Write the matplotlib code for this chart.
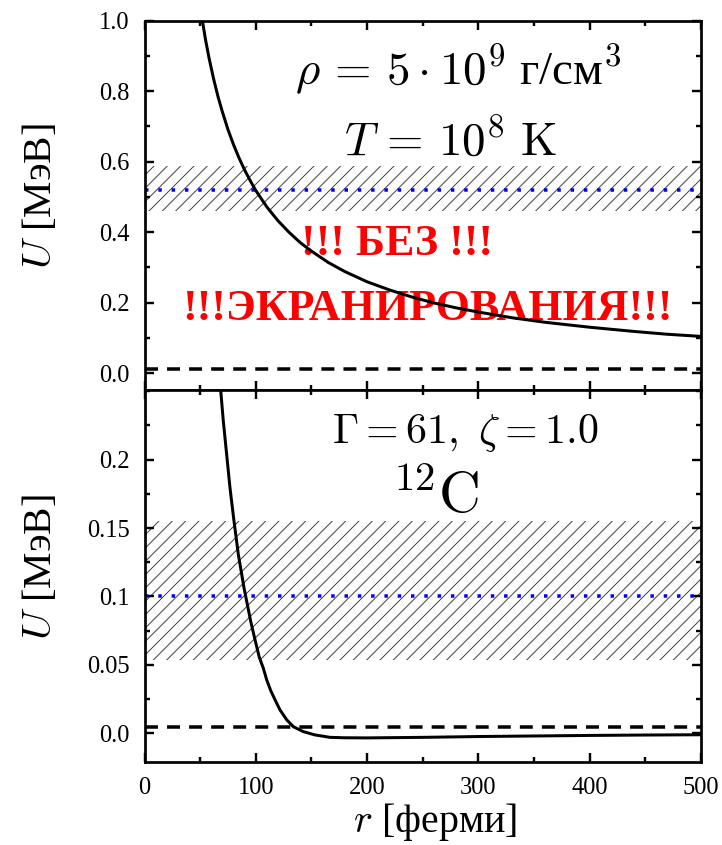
import matplotlib
matplotlib.use("Agg")
import matplotlib.pyplot as plt
from matplotlib.ticker import MultipleLocator, FixedLocator, FixedFormatter

DPI = 80
PT = 72.0 / DPI  # points per pixel

plt.rcParams['font.family'] = ['Liberation Serif', 'DejaVu Serif']
plt.rcParams['mathtext.fontset'] = 'cm'
plt.rcParams['hatch.linewidth'] = 1.0 * PT
plt.rcParams['hatch.color'] = '#444444'

# ---------------- data ----------------
# Top panel: unscreened Coulomb potential U(r)
r_top = [52, 55, 58, 62, 66, 70, 75, 80, 85, 90, 95, 100, 110, 120, 130, 140, 150,
         165, 180, 200, 220, 240, 260, 280, 300, 330, 360, 400, 440, 470, 500]
U_top = [1.0, 0.943, 0.894, 0.836, 0.785, 0.741, 0.691, 0.648, 0.610, 0.576, 0.546,
         0.518, 0.471, 0.432, 0.399, 0.370, 0.346, 0.314, 0.288, 0.259, 0.236, 0.216,
         0.199, 0.185, 0.173, 0.157, 0.144, 0.130, 0.118, 0.110, 0.104]
band_top = (0.461, 0.589)
level_top = 0.52
dash_top = 0.0125

# Bottom panel: screened potential U(r)
r_bot = [68.5, 70.8, 73.8, 76.8, 80.4, 84.3, 89.4, 95.4, 99.3, 103.1, 106.7, 109.8,
         113.5, 117.3, 121.7, 127.8, 133.7, 142.7, 153, 166.7, 180, 200, 250, 300,
         350, 400, 450, 500]
U_bot = [0.2503, 0.2283, 0.2039, 0.1795, 0.1551, 0.1307, 0.1063, 0.0819, 0.0683,
         0.0556, 0.0477, 0.039, 0.031, 0.0244, 0.0171, 0.0098, 0.0048, 0.0012, -0.0012,
         -0.003, -0.0033, -0.0034, -0.003, -0.0024, -0.002, -0.0016, -0.0013, -0.0011]
band_bot = (0.0536, 0.1548)
level_bot = 0.1
dash_bot = 0.0048

xticks = [0, 100, 200, 300, 400, 500]
xticklabels = ['0', '100', '200', '300', '400', '500']
yticks_top = [0.0, 0.2, 0.4, 0.6, 0.8, 1.0]
yticklabels_top = ['0.0', '0.2', '0.4', '0.6', '0.8', '1.0']
yticks_bot = [0.0, 0.05, 0.1, 0.15, 0.2]
yticklabels_bot = ['0.0', '0.05', '0.1', '0.15', '0.2']

# ---------------- figure ----------------
W, H = 722, 845
fig = plt.figure(figsize=(W / DPI, H / DPI), dpi=DPI)

L, R = 144.5, 701.0
T1, B1 = 20.7, 390.3
B2 = 761.7
ax1 = fig.add_axes([L / W, 1 - B1 / H, (R - L) / W, (B1 - T1) / H])
ax2 = fig.add_axes([L / W, 1 - B2 / H, (R - L) / W, (B2 - B1) / H])

spine_lw = 2.7 * PT
curve_lw = 3.0 * PT
dash_lw = 3.5 * PT
dot_lw = 3.5 * PT
tick_fs = 24.5 * PT


def style(ax):
    for s in ax.spines.values():
        s.set_linewidth(spine_lw)
    ax.tick_params(which='both', direction='in', top=True, right=True,
                   width=2.4 * PT, labelsize=tick_fs, pad=15 * PT)
    ax.tick_params(which='major', length=9 * PT)
    ax.tick_params(which='minor', length=5 * PT)
    ax.set_xlim(0, 500)
    ax.xaxis.set_major_locator(FixedLocator(xticks))
    ax.xaxis.set_minor_locator(MultipleLocator(50))


for ax, rr, uu, band, lev, dl in ((ax1, r_top, U_top, band_top, level_top, dash_top),
                                  (ax2, r_bot, U_bot, band_bot, level_bot, dash_bot)):
    style(ax)
    ax.axhspan(band[0], band[1], facecolor='none', edgecolor='#444444',
               hatch='//', linewidth=0, zorder=1)
    ax.axhline(lev, color='#0000ff', lw=dot_lw, linestyle=(0, (1, 2.8)),
               dash_capstyle='butt', zorder=2)
    ax.axhline(dl, color='black', lw=dash_lw, linestyle=(0, (3.7, 2.6)),
               dash_capstyle='butt', zorder=2)
    ax.plot(rr, uu, color='black', lw=curve_lw, zorder=5, solid_capstyle='butt')

# top panel axes
ax1.set_ylim(-0.049, 1.0)
ax1.yaxis.set_major_locator(FixedLocator(yticks_top))
ax1.yaxis.set_major_formatter(FixedFormatter(yticklabels_top))
ax1.yaxis.set_minor_locator(MultipleLocator(0.1))
ax1.tick_params(labelbottom=False)

# bottom panel axes
ax2.set_ylim(-0.0208, 0.2507)
ax2.yaxis.set_major_locator(FixedLocator(yticks_bot))
ax2.yaxis.set_major_formatter(FixedFormatter(yticklabels_bot))
ax2.yaxis.set_minor_locator(MultipleLocator(0.025))
ax2.xaxis.set_major_formatter(FixedFormatter(xticklabels))

# axis labels
for ax, yc in ((ax1, 0.525), (ax2, 0.523)):
    ax.set_ylabel('$U$ [МэВ]', fontsize=41 * PT)
    ax.yaxis.label.set_va('center')
    ax.yaxis.set_label_coords(-0.186, yc)
ax2.set_xlabel('$r$ [ферми]', fontsize=40 * PT)
ax2.xaxis.label.set_va('center')
ax2.xaxis.set_label_coords(0.522, -0.163)

# annotations
ax1.text(0.564, 0.826, r'$\rho\, =\, 5\cdot10^{9}$ г/см$^{3}$', transform=ax1.transAxes,
         ha='center', va='baseline', fontsize=47 * PT, zorder=4)
ax1.text(0.550, 0.636, r'$T\, =\, 10^{8}\ \mathrm{K}$', transform=ax1.transAxes,
         ha='center', va='baseline', fontsize=47 * PT, zorder=4)
ax1.text(0.4546, 0.3656, '!!! БЕЗ !!!', transform=ax1.transAxes, color='#ff0000',
         ha='center', va='baseline', fontsize=44 * PT, fontweight='bold', zorder=4)
ax1.text(0.5085, 0.1895, '!!!ЭКРАНИРОВАНИЯ!!!', transform=ax1.transAxes, color='#ff0000',
         ha='center', va='baseline', fontsize=44 * PT, fontweight='bold', zorder=4)

ax2.text(0.576, 0.859, r'$\Gamma = 61,\ \zeta = 1.0$', transform=ax2.transAxes,
         ha='center', va='baseline', fontsize=42 * PT, zorder=4)
ax2.text(0.524, 0.670, r'$^{12}\mathrm{C}$', transform=ax2.transAxes,
         ha='center', va='baseline', fontsize=58 * PT, zorder=4)

fig.savefig('out.png', dpi=DPI)
